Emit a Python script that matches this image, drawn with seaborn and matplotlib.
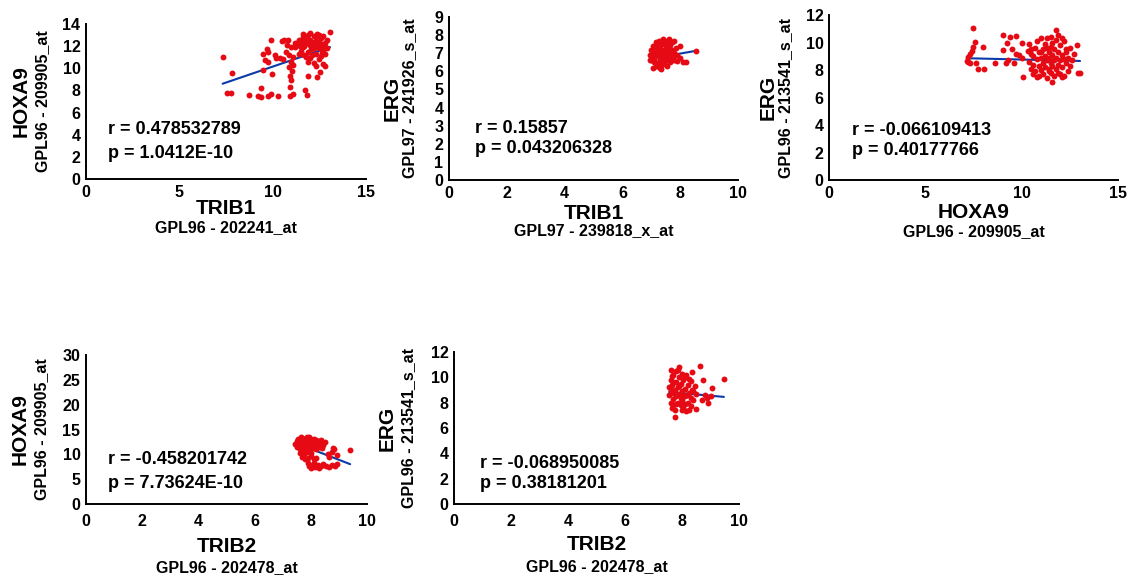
import numpy as np
import pandas as pd
import matplotlib
matplotlib.use("Agg")
import matplotlib.pyplot as plt
import matplotlib.transforms as mtrans
import seaborn as sns

# ---------------- data ----------------
p1_x = [7.32, 7.8, 7.57, 7.75, 8.75, 9.36, 9.23, 9.4, 9.77, 9.9, 10.3, 10.93, 11.07, 10.95, 11.0, 10.95,
        11.05, 10.9, 11.07, 11.73, 11.82, 11.87, 12.36, 12.53, 12.8, 13.07, 9.91, 10.48, 10.6, 10.84,
        9.5, 9.68, 9.77, 9.59, 9.77, 10.12, 10.2, 10.4, 10.57, 9.95, 10.75, 11.0, 11.2, 10.7, 10.9,
        11.1, 11.0, 9.5,
        11.4, 11.5, 11.6, 11.7, 11.8, 11.9, 12.0, 12.1, 12.2, 12.3, 12.4, 12.5, 12.6, 12.7, 12.8,
        11.5, 11.7, 11.9, 12.0, 12.1, 12.2, 12.3, 12.4, 12.5, 12.6, 12.7, 12.8, 12.9, 11.3, 11.6,
        11.8, 12.0, 12.2, 12.4, 12.6, 11.9, 12.2, 12.5, 12.8, 11.6, 12.0, 12.3, 12.5, 11.2, 11.4,
        12.1, 12.9, 12.7, 11.8, 12.3, 11.45, 11.75, 12.05, 12.35, 12.65, 11.65, 11.95, 12.25, 12.55]
p1_y = [11.0, 9.6, 7.74, 7.74, 7.6, 8.25, 7.5, 7.45, 7.5, 7.7, 7.5, 7.5, 7.7, 8.3, 8.9, 9.3,
        9.8, 10.1, 10.3, 8.0, 7.6, 9.3, 9.2, 9.7, 10.2, 13.3, 12.55, 12.5, 12.55, 12.6,
        11.26, 11.74, 11.5, 10.75, 10.6, 11.2, 10.96, 10.9, 10.84, 9.45, 12.1, 11.95, 12.25, 11.5, 11.2,
        11.0, 10.6, 9.85,
        12.6, 12.2, 12.8, 12.0, 12.4, 13.0, 12.6, 12.2, 11.8, 12.5, 13.1, 12.0, 12.7, 11.6, 12.3,
        11.6, 11.2, 11.5, 10.9, 11.8, 12.9, 11.3, 11.9, 12.4, 11.1, 12.9, 11.9, 12.6, 12.3, 11.9,
        12.7, 12.1, 12.4, 12.2, 12.2, 10.6, 10.5, 10.8, 11.3, 13.1, 13.2, 12.8, 13.0, 11.9, 11.3,
        11.2, 11.8, 10.4, 11.0, 10.2, 12.0, 12.3, 11.7, 12.1, 11.5, 12.5, 12.2, 12.0, 11.8]

p2_x = [6.95, 7.0, 7.0, 7.05, 7.05, 7.1, 7.1, 7.15, 7.15, 7.2, 7.2, 7.25, 7.25, 7.3, 7.3, 7.35, 7.35,
        7.4, 7.4, 7.45, 7.45, 7.5, 7.5, 7.55, 7.55, 7.6, 7.6, 7.65, 7.65, 7.7, 7.7, 7.75, 7.8, 7.8,
        7.85, 7.9, 7.3, 7.2, 7.4, 7.5, 7.1, 7.25, 7.35, 7.45, 7.6, 7.0, 6.95, 7.15, 7.55, 7.7, 8.0,
        8.1, 8.2, 8.0, 8.54, 7.35, 7.05, 7.8, 7.65, 7.9, 7.2, 7.3, 7.4, 7.5, 7.6, 7.7, 7.25, 7.45,
        7.55, 7.35]
p2_y = [6.9, 7.2, 6.6, 7.4, 6.8, 7.0, 6.5, 7.6, 7.3, 6.9, 6.3, 7.7, 7.1, 6.7, 6.2, 7.5, 7.0,
        7.8, 6.4, 7.2, 6.8, 7.6, 6.6, 7.0, 6.3, 7.4, 7.8, 6.9, 6.5, 7.2, 7.6, 6.8, 7.0, 6.6,
        7.3, 6.9, 7.3, 7.5, 7.1, 6.9, 6.7, 6.5, 6.3, 7.5, 7.1, 6.9, 6.6, 6.3, 7.7, 6.6, 7.4,
        6.5, 6.5, 6.75, 7.14, 6.15, 6.2, 7.7, 7.45, 6.55, 7.1, 6.85, 6.6, 7.3, 6.7, 7.0, 6.9, 6.45,
        7.2, 7.65]

p3_x = [7.49, 7.58, 7.49, 7.4, 7.32, 7.23, 7.15, 7.23, 7.32, 7.97, 7.63, 7.75, 8.04, 8.61, 9.01, 9.39,
        9.7, 9.22, 9.01, 9.48, 10.0, 9.2, 9.3, 9.6, 9.7, 9.85, 10.09, 10.0, 10.35, 10.5, 11.76, 12.85,
        12.94, 13.03, 11.6, 10.8, 11.9, 12.1, 12.3,
        10.4, 10.5, 10.6, 10.6, 10.7, 10.7, 10.8, 10.8, 10.9, 10.9, 11.0, 11.0, 11.0, 11.1, 11.1, 11.1,
        11.2, 11.2, 11.2, 11.3, 11.3, 11.3, 11.4, 11.4, 11.4, 11.5, 11.5, 11.5, 11.6, 11.6, 11.6, 11.7,
        11.7, 11.7, 11.8, 11.8, 11.9, 11.9, 12.0, 12.0, 12.0, 12.1, 12.1, 12.2, 12.2, 12.3, 12.3, 12.4,
        12.4, 12.5, 12.5, 12.6, 10.5, 10.9, 11.3, 11.8, 12.1, 11.5, 10.4, 11.0, 11.4, 11.9, 12.7, 12.2,
        10.6]
p3_y = [11.03, 10.06, 9.7, 9.4, 9.2, 8.97, 8.68, 8.6, 8.53, 9.7, 8.48, 8.05, 8.05, 8.48, 10.55, 10.42,
        10.47, 9.94, 9.45, 9.5, 9.94, 8.53, 8.73, 8.48, 9.2, 9.1, 7.5, 8.9, 9.4, 9.2, 10.9, 9.8,
        7.8, 7.8, 7.15, 7.5, 10.55, 10.3, 9.5,
        8.6, 8.1, 9.0, 8.4, 9.6, 7.9, 8.8, 10.1, 8.3, 9.3, 8.0, 8.9, 10.3, 7.7, 8.5, 9.5,
        8.2, 9.0, 9.9, 8.7, 7.4, 10.3, 8.1, 9.3, 8.9, 7.8, 8.5, 9.7, 8.3, 9.1, 10.0, 8.7,
        7.6, 9.5, 8.1, 8.9, 9.3, 8.4, 9.8, 8.7, 7.7, 9.1, 8.2, 10.1, 8.8, 8.5, 9.3, 7.9,
        8.9, 9.6, 8.3, 8.7, 9.5, 7.6, 9.6, 10.2, 7.5, 10.4, 9.9, 9.3, 7.9, 7.8, 9.2, 7.6,
        7.7]

p4_x = [7.45, 7.5, 7.5, 7.55, 7.6, 7.6, 7.65, 7.65, 7.7, 7.7, 7.7, 7.75, 7.75, 7.8, 7.8, 7.85, 7.85,
        7.9, 7.9, 7.95, 7.95, 8.0, 8.0, 8.05, 8.05, 8.1, 8.1, 8.15, 8.15, 8.2, 8.2, 8.25, 8.3, 8.3,
        8.35, 8.4, 7.6, 7.75, 7.85, 8.0, 7.55, 7.65, 7.8, 7.95, 8.1, 8.25, 7.7, 8.0, 7.9, 8.35, 8.45,
        8.5, 7.7, 7.8, 7.9, 8.0, 8.1, 8.2, 7.9, 7.95, 8.05, 8.1, 8.15, 8.25, 8.35, 8.45, 8.55, 8.65,
        8.75, 8.85, 8.95, 8.0, 8.3, 9.4, 8.84, 8.74, 8.92, 8.6, 8.66, 8.8]
p4_y = [12.0, 11.5, 12.6, 13.0, 11.0, 12.2, 12.8, 11.7, 13.3, 12.4, 10.6, 11.9, 13.0, 12.6, 11.3, 12.1, 13.4,
        11.7, 12.8, 10.9, 12.3, 13.1, 11.5, 12.0, 12.7, 11.2, 13.0, 12.4, 11.7, 12.9, 11.0, 12.2, 12.6, 11.5,
        12.0, 11.2, 10.3, 10.0, 10.4, 10.2, 12.4, 13.4, 12.0, 13.5, 12.0, 11.8, 11.1, 12.5, 11.0, 12.8, 11.8,
        12.4, 9.4, 9.0, 9.2, 9.6, 9.0, 9.3, 8.2, 7.6, 7.8, 8.2, 7.5, 7.9, 7.6, 8.0, 7.7, 7.5,
        7.9, 7.7, 8.1, 7.3, 7.3, 10.8, 11.0, 10.5, 9.8, 10.0, 9.5, 11.2]

p5_x = [7.55, 7.55, 7.6, 7.6, 7.6, 7.65, 7.65, 7.7, 7.7, 7.7, 7.75, 7.75, 7.75, 7.8, 7.8, 7.8, 7.85,
        7.85, 7.9, 7.9, 7.9, 7.95, 7.95, 8.0, 8.0, 8.0, 8.05, 8.05, 8.1, 8.1, 8.15, 8.15, 8.2, 8.2,
        8.25, 8.26, 8.3, 8.3, 8.35, 8.35, 8.4, 8.45, 8.5, 8.5, 7.65, 7.7, 7.85, 7.95, 8.05, 8.1, 8.2,
        8.25, 8.4, 7.6, 7.8, 8.0, 7.9, 8.1, 8.3, 7.7, 8.63, 9.47, 9.04, 8.73, 8.87, 8.92, 8.8, 8.7, 9.0]
p5_y = [9.2, 8.6, 10.6, 9.8, 8.0, 9.4, 7.6, 10.2, 8.8, 8.3, 9.0, 7.4, 6.9, 10.5, 9.6, 8.5, 8.0,
        9.2, 10.85, 10.0, 8.7, 7.8, 9.5, 10.3, 8.9, 8.2, 9.8, 7.6, 9.1, 8.5, 10.2, 7.34, 9.4, 8.0,
        8.8, 7.42, 9.7, 8.4, 10.4, 9.0, 8.2, 9.3, 8.7, 7.5, 10.1, 9.6, 10.6, 8.4, 8.6, 10.0, 8.6,
        9.9, 8.9, 9.0, 7.9, 7.4, 9.3, 7.9, 7.7, 7.8, 10.9, 9.87, 9.13, 9.8, 8.4, 7.95, 8.6, 8.2, 8.5]

# fitted line (intercept, slope)
fit_intercepts = [4.39, 4.74, 9.10, 28.7, 10.35]
fit_slopes = [0.576, 0.28, -0.034, -2.2, -0.2]

r_texts = ["r = 0.478532789", "r = 0.15857", "r = -0.066109413", "r = -0.458201742", "r = -0.068950085"]
p_texts = ["p = 1.0412E-10", "p = 0.043206328", "p = 0.40177766", "p = 7.73624E-10", "p = 0.38181201"]

x_genes = ["TRIB1", "TRIB1", "HOXA9", "TRIB2", "TRIB2"]
x_probes = ["GPL96 - 202241_at", "GPL97 - 239818_x_at", "GPL96 - 209905_at", "GPL96 - 202478_at", "GPL96 - 202478_at"]
y_genes = ["HOXA9", "ERG", "ERG", "HOXA9", "ERG"]
y_probes = ["GPL96 - 209905_at", "GPL97 - 241926_s_at", "GPL96 - 213541_s_at", "GPL96 - 209905_at", "GPL96 - 213541_s_at"]

x_limits = [(0, 15), (0, 10), (0, 15), (0, 10), (0, 10)]
x_ticks = [[0, 5, 10, 15], [0, 2, 4, 6, 8, 10], [0, 5, 10, 15], [0, 2, 4, 6, 8, 10], [0, 2, 4, 6, 8, 10]]
y_limits = [(0, 14), (0, 9), (0, 12), (0, 30), (0, 12)]
y_ticks = [list(range(0, 15, 2)), list(range(0, 10)), list(range(0, 13, 2)), list(range(0, 31, 5)), list(range(0, 13, 2))]

xs = [p1_x, p2_x, p3_x, p4_x, p5_x]
ys = [p1_y, p2_y, p3_y, p4_y, p5_y]

# ---------------- style ----------------
sns.set_style("white")
plt.rcParams["font.family"] = ["Liberation Sans", "DejaVu Sans"]
plt.rcParams["font.weight"] = "bold"
plt.rcParams["text.color"] = "black"
plt.rcParams["xtick.color"] = "black"
plt.rcParams["ytick.color"] = "black"

W, H = 1134, 583
fig = plt.figure(figsize=(W / 100, H / 100), dpi=100)

# axes boxes in pixels: left, right, top, bottom
boxes = [(86, 366, 24, 179), (449, 738, 17, 180), (829, 1118, 15, 180),
         (86, 367, 355, 504), (454, 739, 352, 504)]
ylab_off = [(-65, -43), (-57, -39), (-61, -43), (-66, -44), (-67, -45)]
xlab_off = [(-29, -49), (-33, -51), (-32, -52), (-43, -64), (-41, -63)]
stat_pos = [(22, 49, 24), (26, 52, 20), (23, 50, 20), (22, 44, 24), (26, 40, 20)]

RED = "#e60a14"
BLUE = "#0a3aa8"

for i in range(5):
    l, r, t, b = boxes[i]
    ax = fig.add_axes([l / W, (H - b) / H, (r - l) / W, (b - t) / H])
    df = pd.DataFrame({"x": xs[i], "y": ys[i]})
    xl = np.array([min(xs[i]), max(xs[i])])
    sns.lineplot(x=xl, y=fit_intercepts[i] + fit_slopes[i] * xl, ax=ax, color=BLUE, lw=1.5, zorder=2)
    sns.scatterplot(data=df, x="x", y="y", ax=ax, color=RED, s=18, linewidth=0, zorder=3)

    ax.set_xlim(*x_limits[i])
    ax.set_ylim(*y_limits[i])
    ax.set_xticks(x_ticks[i])
    ax.set_yticks(y_ticks[i])
    ax.set_xlabel("")
    ax.set_ylabel("")
    for s in ["top", "right"]:
        ax.spines[s].set_visible(False)
    for s in ["left", "bottom"]:
        ax.spines[s].set_color("black")
        ax.spines[s].set_linewidth(1.4)
    ax.tick_params(direction="in", length=4, width=1.2, colors="black", labelsize=11.5, pad=4)
    for lab in ax.get_xticklabels() + ax.get_yticklabels():
        lab.set_fontweight("bold")
    ax.tick_params(axis="x", pad=4 if i < 3 else 7)
    ax.patch.set_alpha(0)

    # stats text
    sx, sy, dy = stat_pos[i]
    tr = mtrans.offset_copy(ax.transAxes, fig=fig, x=sx, y=sy, units="dots")
    ax.text(0, 0, r_texts[i], transform=tr, ha="left", va="center", fontsize=13, fontweight="bold")
    tr2 = mtrans.offset_copy(ax.transAxes, fig=fig, x=sx, y=sy - dy, units="dots")
    ax.text(0, 0, p_texts[i], transform=tr2, ha="left", va="center", fontsize=13, fontweight="bold")

    # x labels
    o1, o2 = xlab_off[i]
    trx1 = mtrans.offset_copy(ax.transAxes, fig=fig, x=0, y=o1, units="dots")
    ax.text(0.5, 0, x_genes[i], transform=trx1, ha="center", va="center", fontsize=15, fontweight="bold")
    trx2 = mtrans.offset_copy(ax.transAxes, fig=fig, x=0, y=o2, units="dots")
    ax.text(0.5, 0, x_probes[i], transform=trx2, ha="center", va="center", fontsize=11.5, fontweight="bold")

    # y labels
    q1, q2 = ylab_off[i]
    try1 = mtrans.offset_copy(ax.transAxes, fig=fig, x=q1, y=0, units="dots")
    ax.text(0, 0.5, y_genes[i], transform=try1, ha="center", va="center", rotation=90, fontsize=15, fontweight="bold")
    try2 = mtrans.offset_copy(ax.transAxes, fig=fig, x=q2, y=0, units="dots")
    ax.text(0, 0.5, y_probes[i], transform=try2, ha="center", va="center", rotation=90, fontsize=11.5, fontweight="bold")

fig.savefig("out.png", dpi=100, facecolor="white")
